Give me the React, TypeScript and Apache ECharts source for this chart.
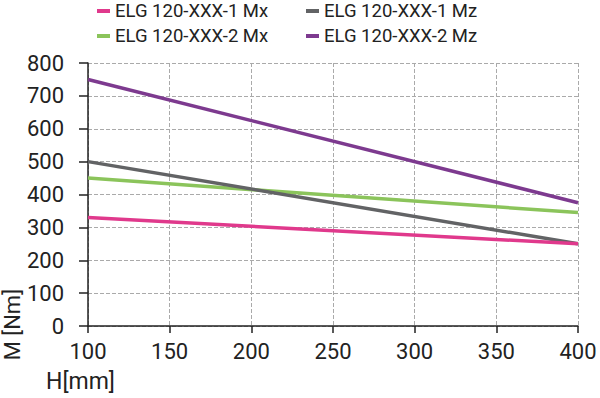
import React, { useEffect, useRef } from "react";
import * as echarts from "echarts";

const xValues = [100, 400];
const series1Mx = [330, 250];
const series2Mx = [450, 345];
const series1Mz = [500, 250];
const series2Mz = [750, 375];
const seriesNames = ["ELG 120-XXX-1 Mx", "ELG 120-XXX-2 Mx", "ELG 120-XXX-1 Mz", "ELG 120-XXX-2 Mz"];
const colors = ["#e0398c", "#8bc45b", "#626365", "#7d3a8f"];

const FONT = "Roboto";

export default function App() {
  const ref = useRef<HTMLDivElement>(null);
  useEffect(() => {
    const chart = echarts.init(ref.current!, null, { renderer: "svg" });
    const data = [series1Mx, series2Mx, series1Mz, series2Mz];
    const legendText = { fontFamily: FONT, fontSize: 18.5, lineHeight: 20, color: "#222" };
    const legendBase = {
      orient: "vertical",
      top: 1,
      padding: 0,
      itemWidth: 13,
      itemHeight: 4,
      itemGap: 5,
      icon: "rect",
      textStyle: legendText,
    };
    chart.setOption({
      animation: false,
      textStyle: { fontFamily: FONT },
      legend: [
        { ...legendBase, left: 97, data: [seriesNames[0], seriesNames[1]] },
        { ...legendBase, left: 306, data: [seriesNames[2], seriesNames[3]] },
      ],
      grid: { left: 88, right: 22, top: 63, bottom: 72 },
      xAxis: {
        type: "value",
        min: 100,
        max: 400,
        interval: 50,
        axisLine: { show: true, lineStyle: { color: "#222", width: 1.5 } },
        axisTick: { show: true, length: 7, lineStyle: { color: "#222", width: 1.5 } },
        axisLabel: { fontFamily: FONT, fontSize: 22, color: "#222", margin: 14 },
        splitLine: { show: true, lineStyle: { color: "#aaa", type: "dashed", width: 1 } },
      },
      yAxis: {
        type: "value",
        min: 0,
        max: 800,
        interval: 100,
        axisLine: { show: true, lineStyle: { color: "#222", width: 1.5 } },
        axisTick: { show: true, length: 9, lineStyle: { color: "#222", width: 1.5 } },
        axisLabel: { fontFamily: FONT, fontSize: 22, color: "#222", margin: 24 },
        splitLine: { show: true, lineStyle: { color: "#aaa", type: "dashed", width: 1 } },
      },
      graphic: [
        {
          type: "text",
          left: 1,
          top: 289,
          rotation: Math.PI / 2,
          style: { text: "M [Nm]", fontFamily: FONT, fontSize: 22, fill: "#222" },
        },
        {
          type: "text",
          left: 46,
          top: 370,
          style: { text: "H[mm]", fontFamily: FONT, fontSize: 23, fill: "#222" },
        },
      ],
      series: data.map((d, i) => ({
        name: seriesNames[i],
        type: "line",
        data: d.map((v, j) => [xValues[j], v]),
        showSymbol: false,
        symbol: "none",
        lineStyle: { color: colors[i], width: 3.5 },
        itemStyle: { color: colors[i] },
        z: i === 0 ? 5 : 2,
      })),
    });
    return () => chart.dispose();
  }, []);
  return <div ref={ref} style={{ width: 600, height: 398, position: "absolute", left: 0, top: 0 }} />;
}
